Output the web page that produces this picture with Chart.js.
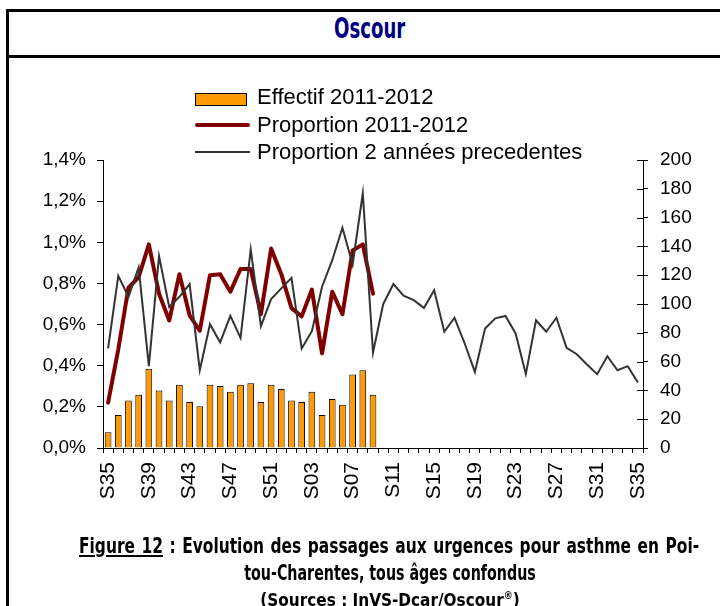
<!DOCTYPE html>
<html lang="fr">
<head>
  <meta charset="UTF-8" />
  <title>Oscour</title>
  <script src="https://cdn.jsdelivr.net/npm/chart.js"></script>
  <style>
    html, body { margin: 0; padding: 0; background: #fff; }
    body {
      width: 720px; height: 606px; position: relative; overflow: hidden;
      font-family: "Liberation Sans", Arial, sans-serif; color: #000;
    }
    .rule { position: absolute; background: #000; }
    .narrow {
      font-family: "Liberation Sans Narrow", "DejaVu Sans Condensed", sans-serif;
      font-weight: bold; white-space: nowrap; position: absolute; transform-origin: 0 0;
    }
    #title { left: 334px; top: 12px; font-size: 29px; line-height: 32px; color: #000080; transform: scaleX(0.695); }
    #chart-box { position: absolute; left: 0; top: 60px; }
    .lg-text { position: absolute; left: 257px; font-size: 22px; line-height: 24px; white-space: nowrap; }
    .lg-swatch { position: absolute; left: 195px; }
    #cap1 {
      left: 79px; top: 533px; font-size: 22px; line-height: 25px; width: 795px;
      text-align: justify; text-align-last: justify; transform: scaleX(0.78);
    }
    #cap2 { left: 390px; top: 560px; font-size: 22px; line-height: 25px; transform: translateX(-50%) scaleX(0.72); transform-origin: 50% 0; }
    #cap3 { left: 390px; top: 586px; font-size: 17px; line-height: 20px; transform: translateX(-50%); }
  </style>
</head>
<body>
  <div class="rule" style="left:6px;top:9px;width:3px;height:600px;"></div>
  <div class="rule" style="left:6px;top:9px;width:714px;height:3px;"></div>
  <div class="rule" style="left:6px;top:55px;width:714px;height:3px;"></div>
  <div id="title" class="narrow">Oscour</div>

  <div id="chart-box"><canvas id="asthmeChart" width="720" height="546"></canvas></div>

  <div class="lg-swatch" style="top:93px;width:50px;height:11px;background:#ff9900;border:1px solid #000;"></div>
  <div class="lg-text" style="top:85px;">Effectif 2011-2012</div>
  <div class="lg-swatch" style="top:123px;width:55px;height:4px;background:#800000;border-radius:2px;"></div>
  <div class="lg-text" style="top:113px;">Proportion 2011-2012</div>
  <div class="lg-swatch" style="top:151px;width:55px;height:2px;background:#333;"></div>
  <div class="lg-text" style="top:140px;">Proportion 2 années precedentes</div>

  <div id="cap1" class="narrow"><u>Figure 12</u> : Evolution des passages aux urgences pour asthme en Poi-</div>
  <div id="cap2" class="narrow">tou-Charentes, tous âges confondus</div>
  <div id="cap3" class="narrow">(Sources : InVS-Dcar/Oscour<sup style="font-size:10px;">®</sup>)</div>

  <script>
    const weeks = ['S35','S36','S37','S38','S39','S40','S41','S42','S43','S44','S45','S46','S47','S48',
      'S49','S50','S51','S52','S01','S02','S03','S04','S05','S06','S07','S08','S09','S10','S11','S12',
      'S13','S14','S15','S16','S17','S18','S19','S20','S21','S22','S23','S24','S25','S26','S27','S28',
      'S29','S30','S31','S32','S33','S34','S35'];

    // nombre de passages 2011-2012 (axe droit)
    const effectif = [11, 23, 33, 37, 55, 40, 33, 44, 32, 29, 44, 43, 39, 44, 45, 32, 44, 41, 33, 32,
      39, 23, 34, 30, 51, 54, 37];

    // proportion 2011-2012 (%)
    const proportion = [0.22, 0.48, 0.78, 0.83, 0.99, 0.75, 0.62, 0.845, 0.645, 0.57, 0.84, 0.845, 0.76,
      0.87, 0.87, 0.65, 0.97, 0.845, 0.68, 0.64, 0.77, 0.46, 0.76, 0.65, 0.96, 0.99, 0.75];

    // proportion des 2 années precedentes (%)
    const proportionPrev = [0.484, 0.837, 0.735, 0.878, 0.398, 0.933, 0.686, 0.735, 0.797, 0.378,
      0.602, 0.513, 0.642, 0.535, 0.965, 0.592, 0.724, 0.776, 0.827, 0.484, 0.568, 0.784, 0.913,
      1.071, 0.892, 1.238, 0.464, 0.699, 0.797, 0.74, 0.719, 0.681, 0.767, 0.565, 0.633, 0.508,
      0.37, 0.581, 0.63, 0.642, 0.557, 0.359, 0.621, 0.565, 0.633, 0.487, 0.456, 0.406, 0.359,
      0.446, 0.378, 0.398, 0.318];

    const font = { family: '"Liberation Sans", Arial, sans-serif', size: 19 };

    // petits traits intérieurs sur l'axe de droite
    const innerTicks = {
      id: 'innerTicks',
      afterDraw(chart) {
        const s = chart.scales.y1;
        const c = chart.ctx;
        c.save();
        c.strokeStyle = '#000';
        c.lineWidth = 1;
        s.ticks.forEach((t, i) => {
          const y = Math.round(s.getPixelForTick(i)) + 0.5;
          c.beginPath();
          c.moveTo(s.left - 6, y);
          c.lineTo(s.left, y);
          c.stroke();
        });
        c.restore();
      }
    };

    const ctx = document.getElementById('asthmeChart').getContext('2d');
    new Chart(ctx, {
      data: {
        labels: weeks,
        datasets: [
          {
            type: 'line', label: 'Proportion 2 années precedentes', data: proportionPrev, yAxisID: 'y',
            borderColor: '#333', borderWidth: 2, pointRadius: 0, tension: 0, order: 1
          },
          {
            type: 'line', label: 'Proportion 2011-2012', data: proportion, yAxisID: 'y',
            borderColor: '#800000', borderWidth: 4, pointRadius: 0, tension: 0,
            borderJoinStyle: 'round', borderCapStyle: 'round', order: 2
          },
          {
            type: 'bar', label: 'Effectif 2011-2012', data: effectif, yAxisID: 'y1',
            backgroundColor: '#ff9900', borderColor: '#000', borderWidth: 1,
            barPercentage: 0.66, categoryPercentage: 1, order: 3
          }
        ]
      },
      options: {
        responsive: false,
        animation: false,
        layout: { padding: { top: 100, bottom: 98, left: 0, right: 0 } },
        plugins: { legend: { display: false }, tooltip: { enabled: false } },
        scales: {
          x: {
            offset: true,
            grid: { offset: true, drawOnChartArea: false, color: '#000', tickLength: 5 },
            border: { color: '#000' },
            ticks: {
              autoSkip: false, maxRotation: 90, minRotation: 90, padding: 9, color: '#000',
              font: { family: font.family, size: 21 },
              callback: (v, i) => (i % 4 === 0 ? weeks[i] : '')
            },
            afterFit: s => { s.height = 60; }
          },
          y: {
            position: 'left', min: 0, max: 1.4,
            grid: { drawOnChartArea: false, color: '#000', tickLength: 6 },
            border: { color: '#000' },
            ticks: {
              stepSize: 0.2, padding: 11, color: '#000', font,
              callback: v => v.toFixed(1).replace('.', ',') + '%'
            },
            afterFit: s => { s.width = 103; }
          },
          y1: {
            position: 'right', min: 0, max: 200,
            grid: { drawOnChartArea: false, color: '#000', tickLength: 5 },
            border: { color: '#000' },
            ticks: { stepSize: 20, padding: 12, color: '#000', font },
            afterFit: s => { s.width = 77; }
          }
        }
      },
      plugins: [innerTicks]
    });
  </script>
</body>
</html>
